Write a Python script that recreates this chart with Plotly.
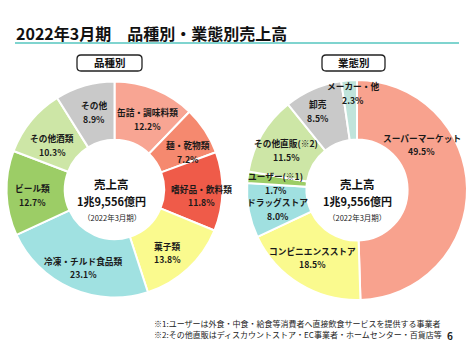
import math
import plotly.graph_objects as go

# ---------------- data ----------------
title_text = "2022年3月期　品種別・業態別売上高"
left_header = "品種別"
right_header = "業態別"

left_labels = ["缶詰・調味料類", "麺・乾物類", "嗜好品・飲料類", "菓子類",
               "冷凍・チルド食品類", "ビール類", "その他酒類", "その他"]
left_values = [12.2, 7.2, 11.8, 13.8, 23.1, 12.7, 10.3, 8.9]

right_labels = ["スーパーマーケット", "コンビニエンスストア", "ドラッグストア",
                "ユーザー(※1)", "その他直販(※2)", "卸売", "メーカー・他"]
right_values = [49.5, 18.5, 8.0, 1.7, 11.5, 8.5, 2.3]

center_lines = ["売上高", "1兆9,556億円", "（2022年3月期）"]
footnotes = ["※1:ユーザーは外食・中食・給食等消費者へ直接飲食サービスを提供する事業者",
             "※2:その他直販はディスカウントストア・EC事業者・ホームセンター・百貨店等"]
page_no = "6"

# ---------------- style ----------------
W, H = 474, 353
FONT = "Noto Sans CJK JP"
left_colors = ["#F8A593", "#F5896F", "#EF5B49", "#FAFA8E",
               "#A0E1E1", "#9CCD66", "#CDE6A6", "#C9C9C9"]
right_colors = ["#F8A28E", "#FAFA8E", "#A0E0E0", "#9CCD66",
                "#CDE6A6", "#C9C9C9", "#C0E4DB"]

L_CX, L_CY, L_R = 114.5, 189.5, 108
R_CX, R_CY, R_R = 357, 190, 110
HOLE = 0.46

left_lab_r = [0.72, 0.76, 0.81, 0.76, 0.78, 0.76, 0.71, 0.74]
left_lab_da = [3, 6, 3, 3, -2, -2, -4, 1]
right_lab_r = [0.72, 0.74, 0.74, 0.74, 0.74, 0.80, 0.88]
right_lab_da = [-34, 2, -3, -2, -1, -3, 2]


def px(x):
    return x / W


def py(y):
    return 1 - y / H


def donut(labels, values, colors, cx, cy, r):
    return go.Pie(
        labels=labels, values=values, sort=False, direction="clockwise",
        rotation=0, hole=HOLE, textinfo="none", hoverinfo="label+percent",
        marker=dict(colors=colors, line=dict(color="white", width=2)),
        domain=dict(x=[px(cx - r), px(cx + r)], y=[py(cy + r), py(cy - r)]),
        showlegend=False,
    )


fig = go.Figure()
fig.add_trace(donut(left_labels, left_values, left_colors, L_CX, L_CY, L_R))
fig.add_trace(donut(right_labels, right_values, right_colors, R_CX, R_CY, R_R))

annotations = []


def ann(x, y, text, size, color="#1a1a1a", xanchor="center"):
    annotations.append(dict(x=px(x), y=py(y), text=text, showarrow=False,
                            xref="paper", yref="paper", xanchor=xanchor,
                            yanchor="middle",
                            font=dict(size=size, color=color, family=FONT)))


def slice_labels(labels, values, cx, cy, r, rf, da):
    total = sum(values)
    cum = 0
    for lab, v, f, d in zip(labels, values, rf, da):
        mid = (cum + v / 2) / total * 360 + d
        cum += v
        a = math.radians(mid)
        x = cx + f * r * math.sin(a)
        y = cy - f * r * math.cos(a)
        ann(x, y - 6.5, "<b>%s</b>" % lab, 8.7)
        ann(x, y + 7, "<b>%.1f%%</b>" % v, 8.7)


slice_labels(left_labels, left_values, L_CX, L_CY, L_R, left_lab_r, left_lab_da)
slice_labels(right_labels, right_values, R_CX, R_CY, R_R, right_lab_r, right_lab_da)

# center text
for cx in (L_CX - 3, R_CX):
    ann(cx, 184, "<b>%s</b>" % center_lines[0], 11.5, "#111")
    ann(cx, 201, "<b>%s</b>" % center_lines[1], 11, "#111")
    ann(cx, 217, center_lines[2], 7.5, "#222")

# title
ann(14, 33, "<b>%s</b>" % title_text, 16, "#111", xanchor="left")

# headers
for (x0, x1, txt) in ((77, 142, left_header), (322, 385, right_header)):
    ann((x0 + x1) / 2, 63, "<b>%s</b>" % txt, 10.5, "#111")

# footnotes
for i, t in enumerate(footnotes):
    ann(152, 323 + 11 * i, t, 8, "#222", xanchor="left")
ann(450, 335, "<b>%s</b>" % page_no, 10, "#222")


def rounded_rect(x0, y0, x1, y1, rad):
    def P(x, y):
        return "%f,%f" % (px(x), py(y))
    return ("M %s L %s Q %s %s L %s Q %s %s L %s Q %s %s L %s Q %s %s Z" % (
        P(x0 + rad, y0), P(x1 - rad, y0), P(x1, y0), P(x1, y0 + rad),
        P(x1, y1 - rad), P(x1, y1), P(x1 - rad, y1),
        P(x0 + rad, y1), P(x0, y1), P(x0, y1 - rad),
        P(x0, y0 + rad), P(x0, y0), P(x0 + rad, y0)))


shapes = [
    dict(type="line", xref="paper", yref="paper", x0=px(15), x1=px(459),
         y0=py(43), y1=py(43), line=dict(color="#7FD4CF", width=2)),
    dict(type="path", xref="paper", yref="paper",
         path=rounded_rect(77, 55, 142, 71, 4), line=dict(color="#222", width=1.3)),
    dict(type="path", xref="paper", yref="paper",
         path=rounded_rect(322, 55, 385, 71, 4), line=dict(color="#222", width=1.3)),
]

fig.update_layout(width=W, height=H, margin=dict(l=0, r=0, t=0, b=0),
                  paper_bgcolor="white", plot_bgcolor="white",
                  annotations=annotations, shapes=shapes,
                  font=dict(family=FONT))

fig.write_html("out.html")
